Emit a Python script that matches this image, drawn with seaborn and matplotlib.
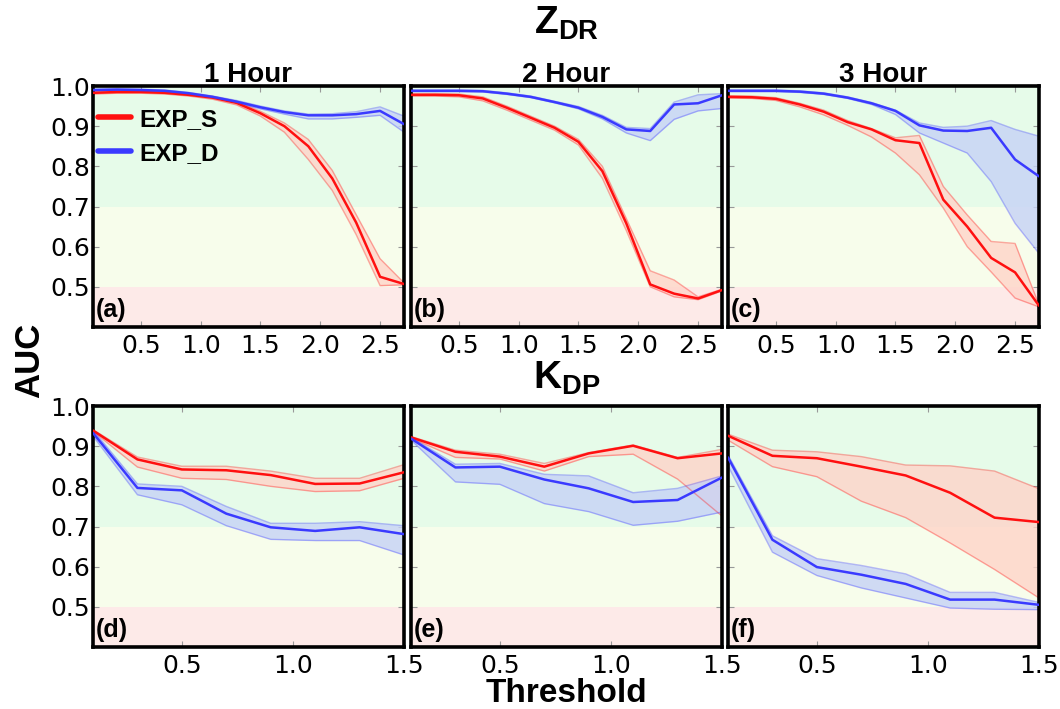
"""AUC vs threshold for ZDR and KDP, EXP_S vs EXP_D, at 1-3 hour lead times."""

from __future__ import annotations

import matplotlib

matplotlib.use("Agg")

import matplotlib.pyplot as plt
import seaborn as sns

sns.set_theme(style="white")
plt.rcParams["font.family"] = ["DejaVu Sans"]
plt.rcParams["text.color"] = "black"
plt.rcParams["axes.labelcolor"] = "black"
plt.rcParams["mathtext.fontset"] = "custom"
plt.rcParams["mathtext.bf"] = "Liberation Sans:bold"
plt.rcParams["mathtext.rm"] = "Liberation Sans"

BOLD = {"family": ["Liberation Sans", "DejaVu Sans"], "weight": "bold"}

# thresholds
X_TOP = [0.1, 0.3, 0.5, 0.7, 0.9, 1.1, 1.3, 1.5, 1.7, 1.9, 2.1, 2.3, 2.5, 2.7]
X_BOT = [0.1, 0.3, 0.5, 0.7, 0.9, 1.1, 1.3, 1.5]

# (a) ZDR, 1 hour
A_S = [0.983, 0.985, 0.985, 0.983, 0.978, 0.971, 0.958, 0.932, 0.900, 0.850, 0.770, 0.660, 0.525, 0.507]
A_S_LO = [0.980, 0.982, 0.982, 0.980, 0.975, 0.967, 0.953, 0.925, 0.885, 0.817, 0.740, 0.630, 0.503, 0.505]
A_S_HI = [0.986, 0.988, 0.988, 0.986, 0.981, 0.974, 0.962, 0.937, 0.908, 0.867, 0.790, 0.680, 0.570, 0.510]
A_D = [0.990, 0.991, 0.990, 0.988, 0.982, 0.973, 0.961, 0.947, 0.935, 0.927, 0.927, 0.930, 0.938, 0.905]
A_D_LO = [0.988, 0.989, 0.988, 0.986, 0.980, 0.971, 0.958, 0.943, 0.930, 0.918, 0.918, 0.922, 0.927, 0.885]
A_D_HI = [0.992, 0.993, 0.992, 0.990, 0.984, 0.975, 0.964, 0.950, 0.938, 0.930, 0.931, 0.936, 0.948, 0.925]

# (b) ZDR, 2 hour
B_S = [0.978, 0.978, 0.977, 0.969, 0.946, 0.921, 0.896, 0.861, 0.788, 0.658, 0.506, 0.483, 0.471, 0.492]
B_S_LO = [0.975, 0.975, 0.973, 0.963, 0.940, 0.915, 0.890, 0.853, 0.770, 0.640, 0.500, 0.475, 0.468, 0.490]
B_S_HI = [0.981, 0.981, 0.980, 0.973, 0.950, 0.925, 0.900, 0.867, 0.800, 0.670, 0.540, 0.517, 0.475, 0.494]
B_D = [0.988, 0.988, 0.988, 0.987, 0.981, 0.973, 0.960, 0.946, 0.923, 0.892, 0.888, 0.954, 0.957, 0.977]
B_D_LO = [0.986, 0.986, 0.986, 0.985, 0.979, 0.971, 0.958, 0.943, 0.918, 0.883, 0.864, 0.917, 0.938, 0.944]
B_D_HI = [0.990, 0.990, 0.990, 0.989, 0.983, 0.975, 0.962, 0.949, 0.927, 0.897, 0.894, 0.960, 0.978, 0.981]

# (c) ZDR, 3 hour
C_S = [0.973, 0.972, 0.968, 0.954, 0.936, 0.910, 0.892, 0.865, 0.858, 0.717, 0.650, 0.572, 0.536, 0.453]
C_S_LO = [0.970, 0.969, 0.964, 0.948, 0.928, 0.902, 0.873, 0.833, 0.779, 0.696, 0.600, 0.537, 0.472, 0.450]
C_S_HI = [0.976, 0.975, 0.971, 0.957, 0.940, 0.914, 0.894, 0.871, 0.877, 0.750, 0.679, 0.613, 0.608, 0.455]
C_D = [0.988, 0.988, 0.988, 0.986, 0.981, 0.971, 0.957, 0.938, 0.902, 0.889, 0.888, 0.896, 0.817, 0.775]
C_D_LO = [0.986, 0.986, 0.986, 0.984, 0.979, 0.969, 0.954, 0.929, 0.883, 0.858, 0.833, 0.762, 0.658, 0.583]
C_D_HI = [0.990, 0.990, 0.990, 0.988, 0.983, 0.973, 0.959, 0.940, 0.908, 0.897, 0.900, 0.914, 0.892, 0.875]

# (d) KDP, 1 hour
D_S = [0.939, 0.867, 0.842, 0.840, 0.828, 0.806, 0.807, 0.835]
D_S_LO = [0.937, 0.848, 0.820, 0.817, 0.800, 0.787, 0.789, 0.820]
D_S_HI = [0.941, 0.873, 0.850, 0.850, 0.838, 0.820, 0.820, 0.854]
D_D = [0.933, 0.796, 0.790, 0.732, 0.698, 0.689, 0.698, 0.681]
D_D_LO = [0.925, 0.779, 0.754, 0.702, 0.668, 0.665, 0.665, 0.629]
D_D_HI = [0.940, 0.806, 0.800, 0.750, 0.708, 0.708, 0.712, 0.702]

# (e) KDP, 2 hour
E_S = [0.922, 0.886, 0.874, 0.849, 0.882, 0.901, 0.870, 0.882]
E_S_LO = [0.920, 0.872, 0.868, 0.838, 0.874, 0.880, 0.818, 0.726]
E_S_HI = [0.924, 0.890, 0.880, 0.857, 0.884, 0.903, 0.872, 0.892]
E_D = [0.919, 0.847, 0.849, 0.817, 0.795, 0.761, 0.766, 0.822]
E_D_LO = [0.915, 0.811, 0.805, 0.757, 0.737, 0.703, 0.713, 0.736]
E_D_HI = [0.922, 0.855, 0.857, 0.830, 0.826, 0.784, 0.795, 0.826]

# (f) KDP, 3 hour
F_S = [0.926, 0.876, 0.870, 0.849, 0.827, 0.784, 0.722, 0.711]
F_S_LO = [0.915, 0.849, 0.824, 0.763, 0.722, 0.659, 0.593, 0.522]
F_S_HI = [0.930, 0.890, 0.886, 0.874, 0.853, 0.851, 0.838, 0.794]
F_D = [0.872, 0.667, 0.599, 0.580, 0.557, 0.518, 0.518, 0.505]
F_D_LO = [0.851, 0.636, 0.578, 0.547, 0.522, 0.497, 0.494, 0.493]
F_D_HI = [0.878, 0.677, 0.620, 0.603, 0.582, 0.536, 0.536, 0.511]

HOURS = ["1 Hour", "2 Hour", "3 Hour"]
LABELS = ["(a)", "(b)", "(c)", "(d)", "(e)", "(f)"]
Y_TICKS = [0.5, 0.6, 0.7, 0.8, 0.9, 1.0]
X_TICKS_TOP = [0.5, 1.0, 1.5, 2.0, 2.5]
X_TICKS_BOT = [0.5, 1.0, 1.5]

RED = "#ff1010"
BLUE = "#3a3aff"
RED_FILL = "#ffd4c9"
BLUE_FILL = "#c6d2f6"

# axes layout in figure pixels (1060 x 709)
FIG_W, FIG_H = 1060, 709
COL_LEFT = [93, 411, 728]
COL_W = 311
ROW_TOP = [86, 406]
ROW_H = 241


def _panel(ax, x, series, xlim, xticks, label, show_y):
    ax.axhspan(0.7, 1.0, color="#e6fbe9", zorder=0, lw=0)
    ax.axhspan(0.5, 0.7, color="#f7fdeb", zorder=0, lw=0)
    ax.axhspan(0.4, 0.5, color="#fdeae8", zorder=0, lw=0)

    for mean, lo, hi, color, fill, name in series:
        ax.fill_between(x, lo, hi, color=fill, alpha=0.8, lw=0, zorder=1)
        ax.plot(x, lo, color=color, alpha=0.35, lw=1.0, zorder=2)
        ax.plot(x, hi, color=color, alpha=0.35, lw=1.0, zorder=2)
        sns.lineplot(x=x, y=mean, color=color, linewidth=1.8, ax=ax, label=name, legend=False, zorder=3)

    ax.set_xlim(*xlim)
    ax.set_ylim(0.4, 1.0)
    ax.set_xticks(xticks)
    ax.set_yticks(Y_TICKS)
    ax.set_xticklabels([f"{v:.1f}" for v in xticks])
    if show_y:
        ax.set_yticklabels([f"{v:.1f}" for v in Y_TICKS])
    else:
        ax.set_yticklabels([])
    ax.tick_params(direction="in", length=4, width=0.8, color="#999999", top=True, right=True,
                   bottom=True, left=True, labelsize=18, labelcolor="black")
    ax.tick_params(axis="x", pad=5)
    ax.tick_params(axis="y", pad=2)
    for spine in ax.spines.values():
        spine.set_linewidth(2.6)
        spine.set_color("black")
    ax.set_xlabel("")
    ax.set_ylabel("")
    ax.text(0.008, 0.02, label, transform=ax.transAxes, fontsize=18, ha="left", va="bottom", zorder=5, **BOLD)


def main() -> None:
    fig = plt.figure(figsize=(FIG_W / 100, FIG_H / 100), dpi=100)

    top_series = [
        [(A_S, A_S_LO, A_S_HI, RED, RED_FILL, "EXP_S"), (A_D, A_D_LO, A_D_HI, BLUE, BLUE_FILL, "EXP_D")],
        [(B_S, B_S_LO, B_S_HI, RED, RED_FILL, "EXP_S"), (B_D, B_D_LO, B_D_HI, BLUE, BLUE_FILL, "EXP_D")],
        [(C_S, C_S_LO, C_S_HI, RED, RED_FILL, "EXP_S"), (C_D, C_D_LO, C_D_HI, BLUE, BLUE_FILL, "EXP_D")],
    ]
    bot_series = [
        [(D_S, D_S_LO, D_S_HI, RED, RED_FILL, "EXP_S"), (D_D, D_D_LO, D_D_HI, BLUE, BLUE_FILL, "EXP_D")],
        [(E_S, E_S_LO, E_S_HI, RED, RED_FILL, "EXP_S"), (E_D, E_D_LO, E_D_HI, BLUE, BLUE_FILL, "EXP_D")],
        [(F_S, F_S_LO, F_S_HI, RED, RED_FILL, "EXP_S"), (F_D, F_D_LO, F_D_HI, BLUE, BLUE_FILL, "EXP_D")],
    ]

    axes = []
    for row, (row_series, x, xlim, xticks) in enumerate(
        [(top_series, X_TOP, (0.1, 2.7), X_TICKS_TOP), (bot_series, X_BOT, (0.1, 1.5), X_TICKS_BOT)]
    ):
        for col in range(3):
            rect = [
                COL_LEFT[col] / FIG_W,
                1 - (ROW_TOP[row] + ROW_H) / FIG_H,
                COL_W / FIG_W,
                ROW_H / FIG_H,
            ]
            ax = fig.add_axes(rect)
            _panel(ax, x, row_series[col], xlim, xticks, LABELS[row * 3 + col], col == 0)
            if row == 0:
                ax.set_title(HOURS[col], fontsize=20, pad=3, **BOLD)
            axes.append(ax)

    leg = axes[0].legend(loc="upper left", bbox_to_anchor=(-0.055, 1.0), frameon=False,
                         handlelength=1.35, handletextpad=0.35, labelspacing=0.45,
                         prop={"family": "Liberation Sans", "weight": "bold", "size": 17.5})
    for line in leg.get_lines():
        line.set_linewidth(4)

    mid = (COL_LEFT[1] + COL_W / 2) / FIG_W
    fig.text(mid, 1 - 34 / FIG_H, r"$\mathbf{Z_{DR}}$", fontsize=28, ha="center", va="baseline")
    fig.text(mid, 1 - 389 / FIG_H, r"$\mathbf{K_{DP}}$", fontsize=28, ha="center", va="baseline")
    fig.text(0.028, 1 - 360 / FIG_H, "AUC", rotation=90, fontsize=25, ha="center", va="center", **BOLD)
    fig.text(mid, 1 - 693 / FIG_H, "Threshold", fontsize=24, ha="center", va="center", **BOLD)

    fig.savefig("out.png", dpi=100)
    plt.close(fig)


if __name__ == "__main__":
    main()
